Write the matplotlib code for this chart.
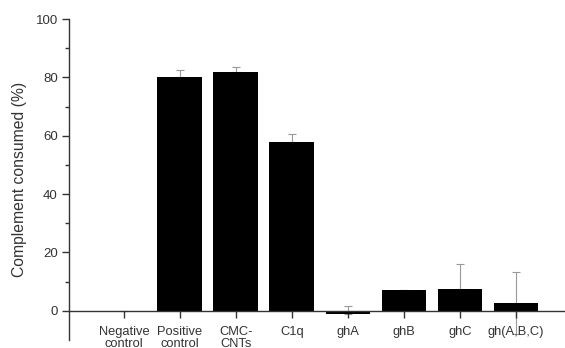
import matplotlib
matplotlib.use("Agg")
import matplotlib.pyplot as plt
import numpy as np

plt.rcParams['font.family'] = ['Liberation Sans', 'DejaVu Sans']

categories = ["Negative\ncontrol", "Positive\ncontrol", "CMC-\nCNTs", "C1q",
              "ghA", "ghB", "ghC", "gh(A,B,C)"]
values = [0.0, 80.0, 82.0, 58.0, -1.2, 7.0, 7.6, 2.6]
err_up = [0.0, 2.6, 1.6, 2.6, 2.7, 0.3, 8.4, 10.7]
err_down = [0.0, 0.0, 0.0, 0.0, 0.0, 0.0, 0.0, 10.7]

fig = plt.figure(figsize=(5.65, 3.48), dpi=100)
ax = fig.add_axes([0.122, 0.023, 0.878, 0.922])

x = np.arange(len(categories))
ax.errorbar(x, values, yerr=[err_down, err_up], fmt='none', ecolor='#999999',
            elinewidth=0.8, capsize=3, capthick=0.8, zorder=1)
ax.bar(x, values, width=0.8, color='black', zorder=2)

ax.set_xlim(-0.98, 7.875)
ax.set_ylim(-10, 100)

for s in ['top', 'right']:
    ax.spines[s].set_visible(False)
ax.spines['bottom'].set_position(('data', 0))
for s in ['left', 'bottom']:
    ax.spines[s].set_color('#333333')
    ax.spines[s].set_linewidth(1.0)
ax.spines['bottom'].set_zorder(3)

ax.set_yticks([0, 20, 40, 60, 80, 100])
ax.set_yticks([10, 30, 50, 70, 90], minor=True)
ax.set_xticks(x)
ax.set_xticklabels(categories, fontsize=9.3, color='#333333', linespacing=1.0)
ax.tick_params(axis='y', which='major', length=5, width=1, color='#333333',
               labelsize=9.5, labelcolor='#333333', pad=3)
ax.tick_params(axis='y', which='minor', length=3, width=1, color='#333333')
ax.tick_params(axis='x', which='major', length=5, width=1, color='#333333', pad=6)

ax.set_ylabel("Complement consumed (%)", fontsize=11.3, color='#333333', labelpad=6)

fig.savefig("out.png", dpi=100)
